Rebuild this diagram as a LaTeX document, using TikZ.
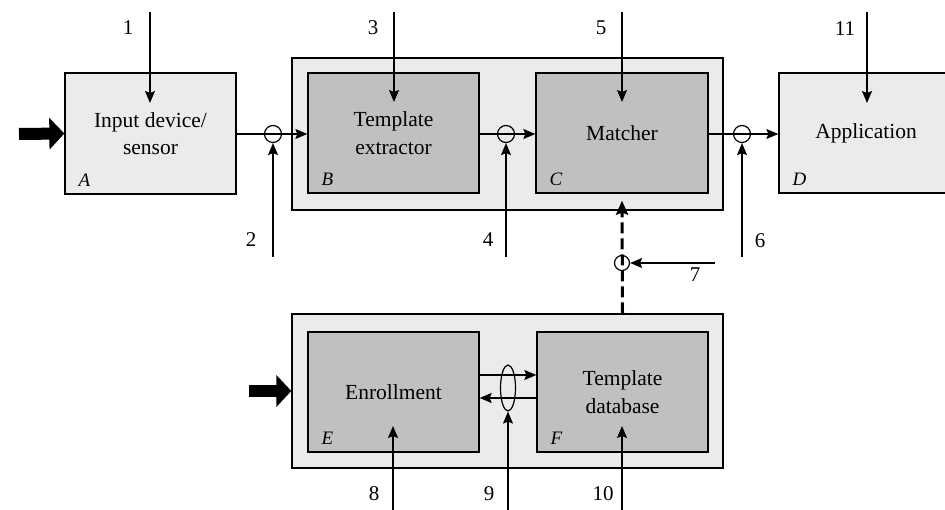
\documentclass[tikz,border=0pt]{standalone}
\usepackage{fontspec}
\setmainfont{Liberation Serif}
\usetikzlibrary{arrows.meta,shapes.geometric}
\definecolor{paleGray}{HTML}{EBEBEB}
\definecolor{midGray}{HTML}{C0C0C0}
\tikzset{
  box/.style={draw, line width=1.3pt, inner sep=0pt, align=center,
    font=\fontsize{21.5}{27.5}\selectfont},
  lightbox/.style={box, fill=paleGray},
  darkbox/.style={box, fill=midGray},
  tag/.style={font=\fontsize{19}{19}\selectfont\itshape, anchor=base west, inner sep=0pt},
  num/.style={font=\fontsize{21}{21}\selectfont, inner sep=0pt},
  conn/.style={line width=1.2pt, -{Stealth[length=12pt,width=10pt,inset=2pt]}},
  bigarrow/.style={line width=12pt, -{Triangle[length=15pt,width=31pt]}},
  dashconn/.style={line width=3pt, dash pattern=on 11pt off 5pt,
    -{Stealth[length=14pt,width=12pt,inset=2pt]}},
  tap/.style={draw, line width=1.2pt, circle, minimum size=17pt, inner sep=0pt},
}
\begin{document}
\begin{tikzpicture}[x=1pt,y=-1pt]
\useasboundingbox (0,0) rectangle (945,510);
\clip (0,0) rectangle (945,510);

% grouping frames
\node[lightbox, minimum width=431pt, minimum height=152pt] (BC) at (507.5,134) {};
\node[lightbox, minimum width=431pt, minimum height=154pt] (EF) at (507.5,391) {};

% functional blocks
\node[lightbox, minimum width=171pt, minimum height=121pt] (A) at (150.5,133.5) {Input device/\\sensor};
\node[darkbox, minimum width=171pt, minimum height=120pt] (B) at (393.5,133) {Template\\extractor};
\node[darkbox, minimum width=172pt, minimum height=120pt] (C) at (622,133) {Matcher};
\node[lightbox, minimum width=174pt, minimum height=120pt] (D) at (866,133) {Application};
\node[darkbox, minimum width=171pt, minimum height=120pt] (E) at (393.5,392) {Enrollment};
\node[darkbox, minimum width=171pt, minimum height=120pt] (F) at (622.5,392) {Template\\database};

% block letters
\foreach \n in {A,B,C,D,E,F}
  \node[tag] (tag\n) at ([shift={(14pt,8pt)}]\n.south west) {\n};

% external inputs
\coordinate (inA) at (19,134);
\coordinate (inE) at (249,391);
\draw[bigarrow] (inA) -- (A.west);
\draw[bigarrow] (inE) -- (EF.west);

% taps on the channels
\node[tap] (c2) at (273,134) {};
\node[tap] (c4) at (506,134) {};
\node[tap] (c6) at (742,134) {};
\node[tap, minimum size=15pt] (c7) at (622,263) {};
\node[draw, line width=1.2pt, ellipse, minimum width=15pt, minimum height=46pt, inner sep=0pt] (c9) at (508,388) {};

% data channels
\draw[conn] (c2 -| A.east) -- (c2 -| B.west);
\draw[conn] (c4 -| B.east) -- (c4 -| C.west);
\draw[conn] (c6 -| C.east) -- (c6 -| D.west);
\draw[conn] ([yshift=17pt]E.east) -- ([yshift=17pt]F.west);
\draw[conn] ([yshift=-6pt]F.west) -- ([yshift=-6pt]E.east);
\coordinate (dbTop) at (F.north |- EF.north);
\coordinate (mIn) at ([yshift=-7pt]C.south);
\draw[dashconn] (dbTop) -- (mIn);

% attack points from above
\coordinate (p1) at (150,12);   \coordinate (t1) at (150,103);
\coordinate (p3) at (394,12);   \coordinate (t3) at (394,102);
\coordinate (p5) at (622,12);   \coordinate (t5) at (622,102);
\coordinate (p11) at (867,12);  \coordinate (t11) at (867,103);
\draw[conn] (p1) -- (t1);
\draw[conn] (p3) -- (t3);
\draw[conn] (p5) -- (t5);
\draw[conn] (p11) -- (t11);

% attack points from below and the side
\coordinate (p2) at (273,257);
\coordinate (p4) at (506,257);
\coordinate (p6) at (742,257);
\coordinate (p7) at (715,263);
\coordinate (p8) at (393,510);  \coordinate (t8) at (393,426);
\coordinate (p9) at (508,510);
\coordinate (p10) at (622,510); \coordinate (t10) at (622,426);
\draw[conn] (p2) -- (c2.south);
\draw[conn] (p4) -- (c4.south);
\draw[conn] (p6) -- (c6.south);
\draw[conn] (p7) -- (c7.east);
\draw[conn] (p8) -- (t8);
\draw[conn] (p9) -- (c9.south);
\draw[conn] (p10) -- (t10);

% attack point numbers
\node[num] (n1) at (128,28) {1};
\node[num] (n2) at (251,240) {2};
\node[num] (n3) at (373,28) {3};
\node[num] (n4) at (488,240) {4};
\node[num] (n5) at (601,28) {5};
\node[num] (n6) at (760,241) {6};
\node[num] (n7) at (695,275) {7};
\node[num] (n8) at (374,494) {8};
\node[num] (n9) at (489,494) {9};
\node[num] (n10) at (603,494) {10};
\node[num] (n11) at (845,29) {11};
\end{tikzpicture}
\end{document}
